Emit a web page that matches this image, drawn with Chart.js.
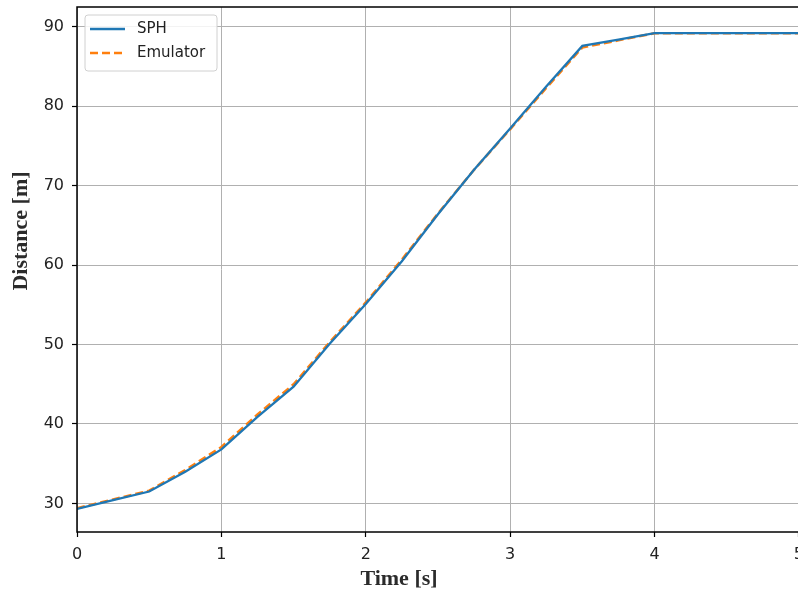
<!DOCTYPE html>
<html>
<head>
<meta charset="utf-8">
<script src="https://cdn.jsdelivr.net/npm/chart.js@4"></script>
<style>
  html, body { margin: 0; padding: 0; background: #fff; }
  #wrap { width: 798px; height: 596px; overflow: hidden; position: relative; }
  canvas { display: block; }
</style>
</head>
<body>
<div id="wrap"><canvas id="chart" width="812" height="596"></canvas></div>
<script>
// data
const timeS = [0, 0.25, 0.5, 0.75, 1, 1.25, 1.5, 1.75, 2, 2.25, 2.5, 2.75, 3, 3.25, 3.5, 3.75, 4, 4.25, 4.5, 4.75, 5];
const sph = [29.3, 30.4, 31.5, 34.0, 36.8, 40.9, 44.7, 50.1, 55.1, 60.5, 66.4, 72.0, 77.2, 82.5, 87.6, 88.4, 89.2, 89.2, 89.2, 89.2, 89.2];
const emulator = [29.4, 30.5, 31.6, 34.2, 37.1, 41.2, 45.0, 50.3, 55.3, 60.7, 66.5, 72.0, 77.1, 82.3, 87.4, 88.3, 89.2, 89.2, 89.2, 89.2, 89.2];
const xTicks = [0, 1, 2, 3, 4, 5];
const yTicks = [30, 40, 50, 60, 70, 80, 90];
const xTitle = 'Time [s]';
const yTitle = 'Distance [m]';

const toPoints = (xs, ys) => xs.map((x, i) => ({ x: x, y: ys[i] }));

const tickFont = { family: '"DejaVu Sans", sans-serif', size: 16 };
const titleFont = 'bold 22px "Liberation Serif", "Times New Roman", serif';

// frame, axis titles and legend box like matplotlib
const extras = {
    id: 'extras',
    afterDraw(chart) {
        const ctx = chart.ctx;
        const a = chart.chartArea;
        ctx.save();
        ctx.strokeStyle = '#000';
        ctx.lineWidth = 1.5;
        ctx.strokeRect(a.left, a.top, a.right - a.left, a.bottom - a.top);

        ctx.fillStyle = '#2b2b2b';
        ctx.font = titleFont;
        ctx.textAlign = 'center';
        ctx.textBaseline = 'middle';
        ctx.fillText(xTitle, 399, 579);
        ctx.translate(21, 231);
        ctx.rotate(-Math.PI / 2);
        ctx.fillText(yTitle, 0, 0);
        ctx.restore();

        // legend
        ctx.save();
        const bx = a.left + 8, by = a.top + 8, bw = 132, bh = 56;
        ctx.beginPath();
        ctx.roundRect(bx, by, bw, bh, 3);
        ctx.fillStyle = 'rgba(255,255,255,0.85)';
        ctx.fill();
        ctx.strokeStyle = '#d0d0d0';
        ctx.lineWidth = 1;
        ctx.stroke();
        ctx.font = '15px "DejaVu Sans", sans-serif';
        ctx.textAlign = 'left';
        ctx.textBaseline = 'middle';
        chart.data.datasets.forEach((ds, i) => {
            const y = by + 14 + i * 24;
            ctx.beginPath();
            ctx.setLineDash(ds.borderDash || []);
            ctx.strokeStyle = ds.borderColor;
            ctx.lineWidth = ds.borderWidth;
            ctx.moveTo(bx + 5, y);
            ctx.lineTo(bx + 40, y);
            ctx.stroke();
            ctx.setLineDash([]);
            ctx.fillStyle = '#222';
            ctx.fillText(ds.label, bx + 52, y);
        });
        ctx.restore();
    }
};

new Chart(document.getElementById('chart'), {
    type: 'line',
    data: {
        datasets: [{
            label: 'SPH',
            data: toPoints(timeS, sph),
            borderColor: '#1f77b4',
            borderWidth: 2.3,
            pointRadius: 0,
            fill: false
        }, {
            label: 'Emulator',
            data: toPoints(timeS, emulator),
            borderColor: '#ff7f0e',
            borderWidth: 2.5,
            borderDash: [8, 4],
            pointRadius: 0,
            fill: false
        }]
    },
    options: {
        responsive: false,
        animation: false,
        devicePixelRatio: 1,
        layout: { padding: { top: 7, right: 10, bottom: 0, left: 0 } },
        plugins: {
            legend: { display: false },
            tooltip: { enabled: false }
        },
        scales: {
            x: {
                type: 'linear',
                min: 0,
                max: 5,
                afterBuildTicks: s => { s.ticks = xTicks.map(v => ({ value: v })); },
                afterFit: s => { s.height = 64; },
                ticks: { font: tickFont, color: '#222', padding: 8, maxRotation: 0 },
                grid: { color: '#b0b0b0', lineWidth: 1, tickColor: '#000', tickLength: 5, tickWidth: 1.2 },
                border: { display: false }
            },
            y: {
                min: 26.4,
                max: 92.5,
                afterBuildTicks: s => { s.ticks = yTicks.map(v => ({ value: v })); },
                afterFit: s => { s.width = 77; s.paddingTop = 0; s.paddingBottom = 0; },
                ticks: { font: tickFont, color: '#222', padding: 8 },
                grid: { color: '#b0b0b0', lineWidth: 1, tickColor: '#000', tickLength: 5, tickWidth: 1.2 },
                border: { display: false }
            }
        }
    },
    plugins: [extras]
});
</script>
</body>
</html>
